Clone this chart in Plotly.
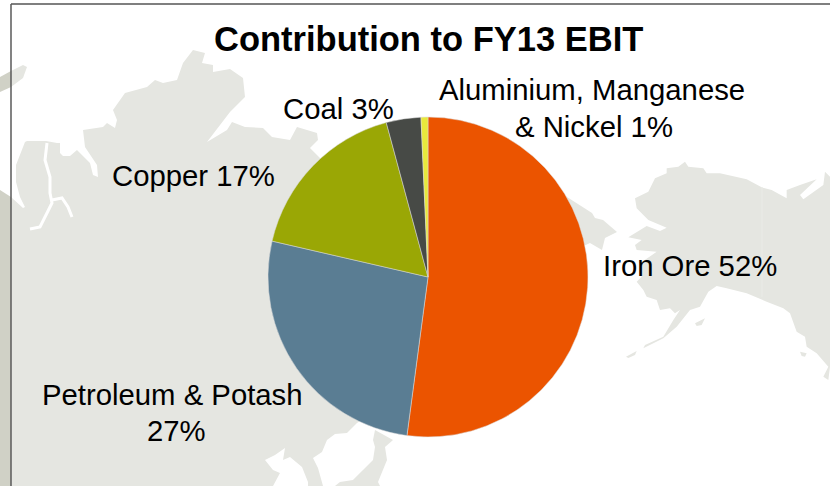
import plotly.graph_objects as go

# Chart data
names = ["Iron Ore", "Petroleum & Potash", "Copper", "Coal", "Aluminium, Manganese & Nickel"]
values = [52.1, 26.5, 17.2, 3.5, 0.7]
colors = ["#EB5400", "#5A7D93", "#9AA705", "#474A46", "#E8E83C"]
label_lines = ["Iron Ore 52%", "Petroleum & Potash", "27%", "Copper 17%", "Coal 3%",
               "Aluminium, Manganese", "& Nickel 1%"]
title_text = "<b>Contribution to FY13 EBIT</b>"

W, H = 830, 486
LAND = "#E5E6E1"
STRIP = "#D0D1C6"


def path(points, close=True):
    parts = []
    for i, (x, y) in enumerate(points):
        parts.append(("M" if i == 0 else "L") + f"{x / W:.5f},{1 - y / H:.5f}")
    return " ".join(parts) + (" Z" if close else "")


def z6(points):
    return [(x / 3 + 560, y / 3 + 150) for x, y in points]


def land(points, color=LAND):
    return dict(type="path", xref="paper", yref="paper", path=path(points), fillcolor=color,
                line=dict(width=0), layer="below")


def stroke(points, color="#FFFFFF", width=3):
    return dict(type="path", xref="paper", yref="paper", path=path(points, close=False),
                line=dict(color=color, width=width), layer="below")


asia = [(11, 197), (23, 208), (25, 207), (20, 197), (16, 182), (16, 165), (25, 142), (27, 141),
        (46, 141), (57, 143), (60, 143), (60, 153), (63, 156), (70, 156), (77, 150), (90, 163),
        (93, 175), (98, 177), (97, 165), (85, 147), (83, 130), (103, 127), (107, 123), (115, 128),
        (117, 120), (113, 110), (125, 93), (147, 87), (155, 80), (163, 83), (177, 80), (183, 63),
        (193, 50), (205, 53), (202, 63), (213, 65), (213, 72), (230, 69), (243, 78), (245, 97),
        (230, 112), (207, 142), (227, 130), (232, 122), (245, 127), (263, 128), (272, 137),
        (290, 140), (297, 127), (317, 133), (318, 140), (310, 148), (322, 160), (340, 180),
        (420, 280), (370, 415), (357, 423), (347, 433), (335, 434), (327, 440), (322, 452),
        (313, 458), (318, 468), (323, 486), (308, 486), (308, 482), (302, 467), (290, 457),
        (283, 460), (285, 448), (275, 455), (265, 460), (273, 470), (280, 473), (273, 486),
        (11, 486)]
japan = [(375, 430), (393, 440), (385, 447), (387, 460), (378, 482), (380, 486), (335, 486),
         (340, 482), (353, 480), (363, 470), (373, 460), (375, 447), (373, 440)]
kamchatka = [(555, 190), (567, 197), (592, 213), (595, 218), (603, 220), (617, 232), (605, 238),
             (602, 250), (590, 243), (575, 250)]
alaska = z6([(225, 145), (265, 125), (285, 85), (320, 70), (320, 55), (355, 50), (375, 35),
             (385, 50), (430, 55), (440, 70), (480, 70), (560, 88), (605, 112), (635, 120),
             (680, 145), (680, 120), (720, 105), (770, 88), (720, 135), (730, 148), (790, 105),
             (795, 65), (810, 80), (810, 650), (805, 690), (790, 680), (805, 650), (770, 610),
             (740, 590), (735, 560), (710, 545), (690, 490), (670, 475), (620, 455), (560, 430),
             (500, 415), (470, 408), (445, 425), (420, 470), (390, 480), (350, 530), (310, 565),
             (250, 595), (255, 585), (310, 560), (340, 510), (360, 480), (345, 490), (330, 475),
             (300, 480), (290, 450), (260, 440), (250, 420), (230, 395), (245, 380), (240, 340),
             (305, 295), (290, 305), (230, 300), (225, 285), (245, 270), (205, 262), (260, 228),
             (300, 243), (320, 233), (265, 210), (230, 175)])
kodiak = z6([(405, 520), (435, 505), (425, 525), (410, 528)])
aleut = z6([(198, 620), (230, 603), (225, 615), (205, 624)])
sitka = z6([(720, 605), (740, 610), (735, 620), (725, 618)])

shapes = [
    land([(0, 190), (11, 197), (11, 486), (0, 486)], STRIP),
    land([(0, 77), (11, 71), (11, 87), (0, 92)], STRIP),
    land([(11, 71), (23, 65), (27, 67), (23, 78), (11, 87)]),
    land(asia), land(japan), land(kamchatka), land(alaska), land(kodiak), land(aleut), land(sitka),
    stroke([(47, 143), (45, 160), (50, 177), (50, 193), (52, 203), (47, 213), (40, 227), (30, 229)]),
    stroke([(52, 200), (62, 198), (68, 207), (72, 217)]),
    stroke([(762, 187), (762, 297)], "#EAEBE7", 1),
    stroke([(11, 4), (830, 4)], "#7F7F7F", 2),
    stroke([(11, 4), (11, 486)], "#595959", 1.5),
]

pie = go.Pie(
    labels=names, values=values, sort=False, direction="clockwise", rotation=0,
    marker=dict(colors=colors, line=dict(color="#DDDDDD", width=0.5)),
    textinfo="none", hoverinfo="label+percent", showlegend=False,
    domain=dict(x=[268 / W, 588 / W], y=[1 - 437 / H, 1 - 117 / H]),
)

line_pos = [(690, 265), (172.5, 394), (176, 430), (193, 175), (338.5, 108), (592, 90), (594, 126)]
annotations = [
    dict(text=t, x=x / W, y=1 - y / H, xref="paper", yref="paper", showarrow=False,
         xanchor="center", yanchor="middle",
         font=dict(family="Liberation Sans", size=29.3, color="#000000"))
    for t, (x, y) in zip(label_lines, line_pos)
]
annotations.append(dict(text=title_text, x=428 / W, y=1 - 39 / H, xref="paper", yref="paper",
                        showarrow=False, xanchor="center", yanchor="middle",
                        font=dict(family="Liberation Sans", size=34.5, color="#000000")))

fig = go.Figure(pie)
fig.update_layout(width=W, height=H, margin=dict(l=0, r=0, t=0, b=0), autosize=False,
                  paper_bgcolor="#FFFFFF", shapes=shapes, annotations=annotations)
fig.write_html("out.html", config=dict(displayModeBar=False),
               post_script="document.body.style.margin='0';document.documentElement.style.overflow='hidden';")
